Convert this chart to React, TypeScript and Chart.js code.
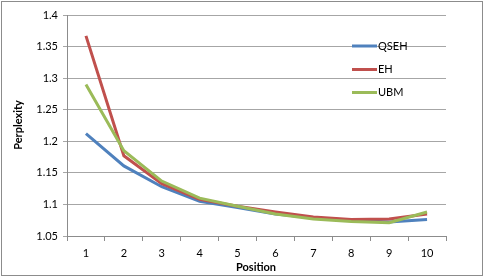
import React, { useEffect, useRef } from "react";
import { Chart, registerables } from "chart.js";

Chart.register(...registerables);

const positions = ["1", "2", "3", "4", "5", "6", "7", "8", "9", "10"];
const qseh = [1.212, 1.161, 1.128, 1.105, 1.095, 1.085, 1.079, 1.075, 1.072, 1.076];
const eh = [1.367, 1.177, 1.133, 1.108, 1.097, 1.088, 1.080, 1.076, 1.077, 1.085];
const ubm = [1.29, 1.185, 1.137, 1.11, 1.097, 1.085, 1.077, 1.073, 1.071, 1.088];
const yTicks = [1.05, 1.1, 1.15, 1.2, 1.25, 1.3, 1.35, 1.4];
const seriesNames = ["QSEH", "EH", "UBM"];
const seriesColors = ["#4f81bd", "#c0504d", "#9bbb59"];

const FONT = "Lato, 'Open Sans', sans-serif";

const decorPlugin = {
  id: "decor",
  afterDraw(chart: any) {
    const ctx = chart.ctx;
    ctx.save();
    ctx.strokeStyle = "#8c8c8c";
    ctx.lineWidth = 1;
    ctx.strokeRect(1.5, 1.5, 481, 274);
    ctx.fillStyle = "#000";
    ctx.font = `bold 11px ${FONT}`;
    ctx.textAlign = "center";
    ctx.textBaseline = "middle";
    ctx.fillText("Position", 256, 267);
    ctx.save();
    ctx.translate(18, 125);
    ctx.rotate(-Math.PI / 2);
    ctx.fillText("Perplexity", 0, 0);
    ctx.restore();
    const ys = [46, 69.5, 92.5];
    ctx.font = `11px ${FONT}`;
    ctx.textAlign = "left";
    seriesNames.forEach((n, i) => {
      ctx.strokeStyle = seriesColors[i];
      ctx.lineWidth = 3;
      ctx.beginPath();
      ctx.moveTo(352, ys[i]);
      ctx.lineTo(377, ys[i]);
      ctx.stroke();
      ctx.fillStyle = "#000";
      ctx.fillText(n, 378, ys[i]);
    });
    ctx.restore();
  },
};

export default function App() {
  const ref = useRef<HTMLCanvasElement>(null);
  useEffect(() => {
    document.body.style.margin = "0";
    const data = [qseh, eh, ubm];
    const chart = new Chart(ref.current!, {
      type: "line",
      data: {
        labels: positions,
        datasets: seriesNames.map((n, i) => ({
          label: n,
          data: data[i],
          order: 2 - i,
          borderColor: seriesColors[i],
          backgroundColor: seriesColors[i],
          borderWidth: 3,
          pointRadius: 0,
          tension: 0,
          fill: false,
        })),
      },
      options: {
        responsive: false,
        animation: false,
        events: [],
        layout: { padding: { top: 15, right: 39, bottom: 0, left: 0 } },
        plugins: { legend: { display: false }, tooltip: { enabled: false } },
        scales: {
          x: {
            type: "category",
            offset: true,
            grid: {
              offset: true,
              drawOnChartArea: false,
              drawTicks: true,
              tickLength: 5,
              color: "#8c8c8c",
            },
            border: { display: true, color: "#8c8c8c" },
            ticks: {
              color: "#000",
              font: { family: FONT, size: 11 },
              padding: 6,
              maxRotation: 0,
              autoSkip: false,
            },
            afterFit: (s: any) => {
              s.height = 41;
              s.paddingLeft = 0;
              s.paddingRight = 0;
            },
          },
          y: {
            min: 1.05,
            max: 1.4,
            afterBuildTicks: (s: any) => {
              s.ticks = yTicks.map((v) => ({ value: v }));
            },
            grid: { color: "#a6a6a6", tickLength: 4, drawTicks: true },
            border: { display: true, color: "#8c8c8c" },
            ticks: {
              color: "#000",
              font: { family: FONT, size: 11 },
              padding: 5,
              callback: (v: any) => String(Math.round(v * 100) / 100),
            },
            afterFit: (s: any) => {
              s.width = 67;
              s.paddingTop = 0;
              s.paddingBottom = 0;
            },
          },
        },
      },
      plugins: [decorPlugin],
    });
    return () => chart.destroy();
  }, []);
  return <canvas ref={ref} width={485} height={277} style={{ display: "block" }} />;
}
